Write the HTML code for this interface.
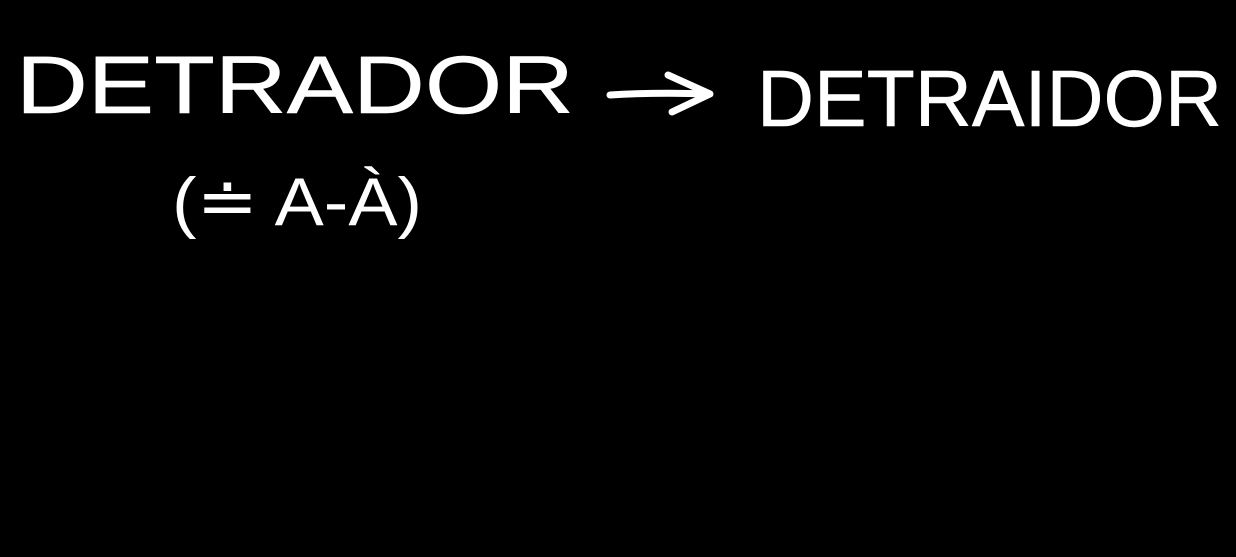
<!DOCTYPE html>
<html>
<head>
<meta charset="utf-8">
<style>
  html,body{margin:0;padding:0;background:#000;}
  svg{display:block;}
  text{font-family:"Liberation Sans",sans-serif;fill:#fff;stroke:#fff;stroke-width:0.5;stroke-linejoin:round;}
</style>
</head>
<body>
<svg width="1236" height="557" viewBox="0 0 1236 557">
  <rect width="1236" height="557" fill="#000"/>
  <text x="16" y="113" font-size="82" textLength="558" lengthAdjust="spacingAndGlyphs">DETRADOR</text>
  <g stroke="#fff" stroke-width="7" stroke-linecap="round" stroke-linejoin="round" fill="none">
    <path d="M610 95 Q660 92 708 94"/>
    <path d="M668 75 L710 94 L672 112"/>
  </g>
  <text x="757" y="126" font-size="80" textLength="465" lengthAdjust="spacingAndGlyphs">DETRAIDOR</text>
  <text x="172" y="225" font-size="68" textLength="250" lengthAdjust="spacingAndGlyphs" style="stroke-width:0">(≐ A-À)</text>
</svg>
</body>
</html>
